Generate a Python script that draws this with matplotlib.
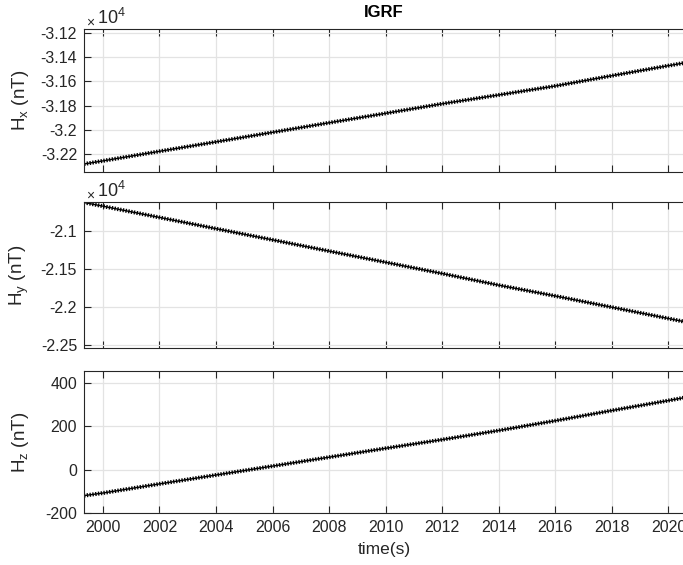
import matplotlib
matplotlib.use('Agg')
import matplotlib.pyplot as plt
from matplotlib.ticker import FuncFormatter

plt.rcParams['font.family'] = ['Liberation Sans', 'DejaVu Sans']
plt.rcParams['mathtext.fontset'] = 'custom'
plt.rcParams['mathtext.rm'] = 'Liberation Sans'
plt.rcParams['mathtext.it'] = 'Liberation Sans'
plt.rcParams['axes.unicode_minus'] = False

# Data (IGRF field components in nT)
years = [1999.33, 2000, 2002, 2004, 2006, 2008, 2010, 2012, 2014, 2016, 2018, 2020, 2020.55]
hx = [-32283, -32257, -32178, -32100, -32021, -31942, -31864, -31785, -31712, -31638, -31553, -31470, -31448]
hy = [-20620, -20669, -20817, -20965, -21112, -21260, -21407, -21555, -21708, -21850, -21998, -22146, -22187]
hz = [-120, -108, -66, -25, 16, 57, 98, 138, 180, 225, 272, 318, 331]

xticks = list(range(2000, 2021, 2))
hx_ticks = [-32200, -32000, -31800, -31600, -31400, -31200]
hy_ticks = [-22500, -22000, -21500, -21000]
hz_ticks = [-200, 0, 200, 400]

fig = plt.figure(figsize=(6.83, 5.65), dpi=100)
W, H = 683, 565
def place(top, bottom):
    return [84 / W, (H - bottom) / H, 600 / W, (bottom - top) / H]

ax1 = fig.add_axes(place(29, 172))
ax2 = fig.add_axes(place(202, 348))
ax3 = fig.add_axes(place(371, 513))

edge = '#262626'
panels = [
    (ax1, hx, hx_ticks, (-32349, -31167), r'$\mathregular{H_x}$ (nT)', True),
    (ax2, hy, hy_ticks, (-22534, -20614), r'$\mathregular{H_y}$ (nT)', True),
    (ax3, hz, hz_ticks, (-198, 454), r'$\mathregular{H_z}$ (nT)', False),
]

for ax, vals, yt, ylim, ylab, scaled in panels:
    # thin connecting line plus beaded pattern that mimics the dense markers
    ax.plot(years, vals, color='k', lw=1.0)
    ax.plot(years, vals, color='k', lw=2.9, ls=(0, (0.34, 0.36)),
            dash_capstyle='butt')
    ax.set_xlim(1999.33, 2020.55)
    ax.set_ylim(*ylim)
    ax.set_xticks(xticks)
    ax.set_yticks(yt)
    if scaled:
        ax.yaxis.set_major_formatter(FuncFormatter(lambda v, p: '%g' % round(v / 1e4, 4)))
        ax.text(0.003, 1.0, r'$\times$', transform=ax.transAxes,
                fontsize=10, color=edge, ha='left', va='bottom')
        ax.text(0.022, 1.004, r'$\mathregular{10^4}$', transform=ax.transAxes,
                fontsize=13, color=edge, ha='left', va='bottom')
    if ax is not ax3:
        ax.tick_params(labelbottom=False)
    ax.grid(True, color='#e3e3e3', lw=0.9)
    ax.set_axisbelow(True)
    ax.tick_params(direction='in', top=True, length=5, width=0.8,
                   colors=edge, labelsize=11.5, pad=5)
    for s in ax.spines.values():
        s.set_color(edge)
        s.set_linewidth(0.8)
    ax.set_ylabel(ylab, fontsize=13.5, color=edge)
    ax.yaxis.set_label_coords(-0.088, 0.5)

ax1.set_title('IGRF', fontsize=12, fontweight='bold', color='k', pad=9)
ax3.set_xlabel('time(s)', fontsize=12.5, color=edge, labelpad=5)

fig.savefig('out.png', dpi=100)
